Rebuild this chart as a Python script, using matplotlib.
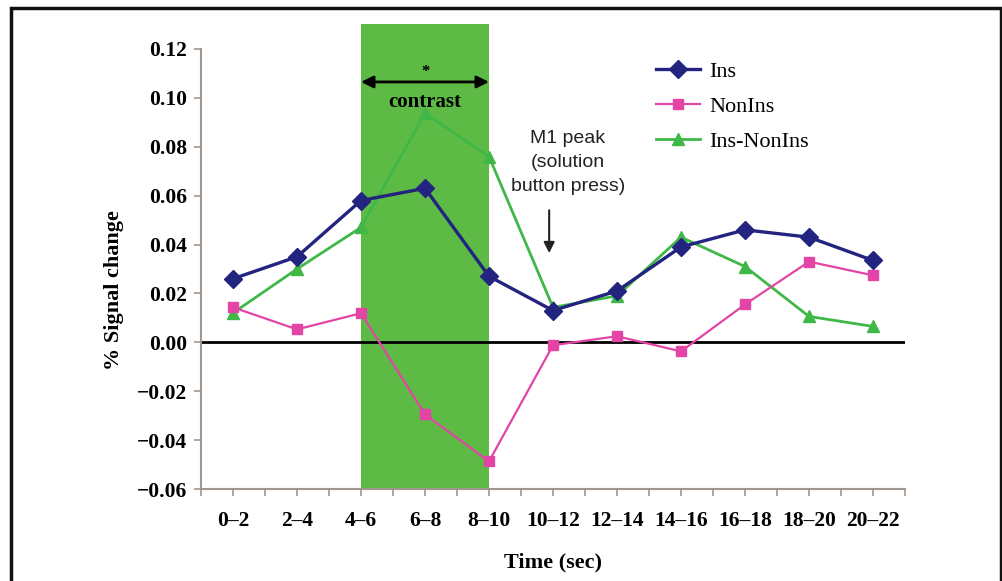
import matplotlib
matplotlib.use("Agg")
import matplotlib.pyplot as plt
from matplotlib.lines import Line2D
from matplotlib.patches import Rectangle
import numpy as np

categories = ["0\u20132", "2\u20134", "4\u20136", "6\u20138", "8\u201310", "10\u201312",
              "12\u201314", "14\u201316", "16\u201318", "18\u201320", "20\u201322"]
ins = [0.026, 0.035, 0.058, 0.063, 0.027, 0.013, 0.021, 0.039, 0.046, 0.043, 0.0335]
nonins = [0.0143, 0.0053, 0.0119, -0.0295, -0.0487, -0.0012, 0.0025, -0.0037, 0.0155, 0.033, 0.0274]
diff = [0.012, 0.030, 0.047, 0.0937, 0.076, 0.0143, 0.019, 0.043, 0.031, 0.0106, 0.0065]
yticks = [-0.06, -0.04, -0.02, 0.00, 0.02, 0.04, 0.06, 0.08, 0.10, 0.12]
shade_start, shade_end = "4\u20136", "8\u201310"

serif = ["Liberation Serif", "DejaVu Serif"]
sans = ["Liberation Sans", "DejaVu Sans"]

fig = plt.figure(figsize=(10.03, 5.81), dpi=100)
ax = fig.add_axes([0.2004, 0.1583, 0.7019, 0.8004])

x = np.arange(len(categories))
ymin, ytop = -0.06, 0.1302

i0 = categories.index(shade_start)
i1 = categories.index(shade_end)
ax.axvspan(i0, i1, color="#5dbb45", zorder=1, lw=0)

ax.axhline(0.0, color="black", lw=2, zorder=2)

c_ins = "#232380"
c_non = "#e245a5"
c_diff = "#3fb848"
ax.plot(x, ins, color=c_ins, lw=2.4, marker="D", ms=9, zorder=5)
ax.plot(x, nonins, color=c_non, lw=1.6, marker="s", ms=7, zorder=4)
ax.plot(x, diff, color=c_diff, lw=2.0, marker="^", ms=8, zorder=3)

ax.set_xlim(-0.5, len(categories) - 0.5)
ax.set_ylim(ymin, ytop)

for s in ["top", "right"]:
    ax.spines[s].set_visible(False)
ax.spines["left"].set_bounds(ymin, 0.12)
ax.spines["left"].set_color("#a09890")
ax.spines["bottom"].set_color("#a09890")
ax.spines["left"].set_linewidth(1.5)
ax.spines["bottom"].set_linewidth(1.5)

ax.set_yticks(yticks)
ax.set_yticklabels([f"{v:.2f}".replace("-", "\u2212") for v in yticks],
                   fontfamily=serif, fontweight="bold", fontsize=15.5)
ax.set_xticks(x)
ax.set_xticklabels(categories, fontfamily=serif, fontweight="bold", fontsize=15.5)
ax.set_xticks(np.arange(-0.5, len(categories), 1.0), minor=True)
ax.tick_params(axis="both", which="both", color="#a09890", width=1.2)
ax.tick_params(axis="x", which="major", length=5, pad=11)
ax.tick_params(axis="x", which="minor", length=5)
ax.tick_params(axis="y", length=5, pad=5)

ax.set_xlabel("Time (sec)", fontfamily=serif, fontweight="bold", fontsize=16, labelpad=15)
fig.text(114 / 1003, 1 - 290 / 581, "% Signal change", rotation=90, ha="center", va="center",
         fontfamily=serif, fontweight="bold", fontsize=16)

# contrast double arrow
ax.annotate("", xy=(i0, 0.1065), xytext=(i1, 0.1065),
            arrowprops=dict(arrowstyle="<|-|>", color="black", lw=2, mutation_scale=18,
                            shrinkA=0, shrinkB=0), zorder=6)
ax.text((i0 + i1) / 2, 0.1105, "*", ha="center", va="center", fontfamily=serif,
        fontweight="bold", fontsize=12, zorder=6)
ax.text((i0 + i1) / 2, 0.0985, "contrast", ha="center", va="center", fontfamily=serif,
        fontweight="bold", fontsize=15, zorder=6)

# M1 peak
m1 = categories.index("10\u201312")
ax.text(m1 + 0.23, 0.0735, "M1 peak\n(solution\nbutton press)", ha="center", va="center",
        fontfamily=sans, fontsize=14, linespacing=1.55, color="#222222", zorder=6)
ax.annotate("", xy=(m1 - 0.06, 0.0365), xytext=(m1 - 0.06, 0.054),
            arrowprops=dict(arrowstyle="-|>", color="#222222", lw=1.5, mutation_scale=16,
                            shrinkA=0, shrinkB=0), zorder=6)

handles = [Line2D([], [], color=c_ins, lw=2.4, marker="D", ms=9),
           Line2D([], [], color=c_non, lw=1.6, marker="s", ms=7),
           Line2D([], [], color=c_diff, lw=2.0, marker="^", ms=8)]
leg = ax.legend(handles, ["Ins", "NonIns", "Ins-NonIns"], loc="upper left",
                bbox_to_anchor=(656 / 1003, 1 - 61 / 581), bbox_transform=fig.transFigure,
                frameon=False, prop=dict(family=serif, size=16), handlelength=2.0,
                handletextpad=0.4, labelspacing=0.65, borderaxespad=0, borderpad=0)

# outer frame
fig.add_artist(Rectangle((0.0105, -0.05), 0.9875, 1.0365, transform=fig.transFigure,
                         fill=False, edgecolor="#111111", lw=2.5))

fig.savefig("out.png", dpi=100)
